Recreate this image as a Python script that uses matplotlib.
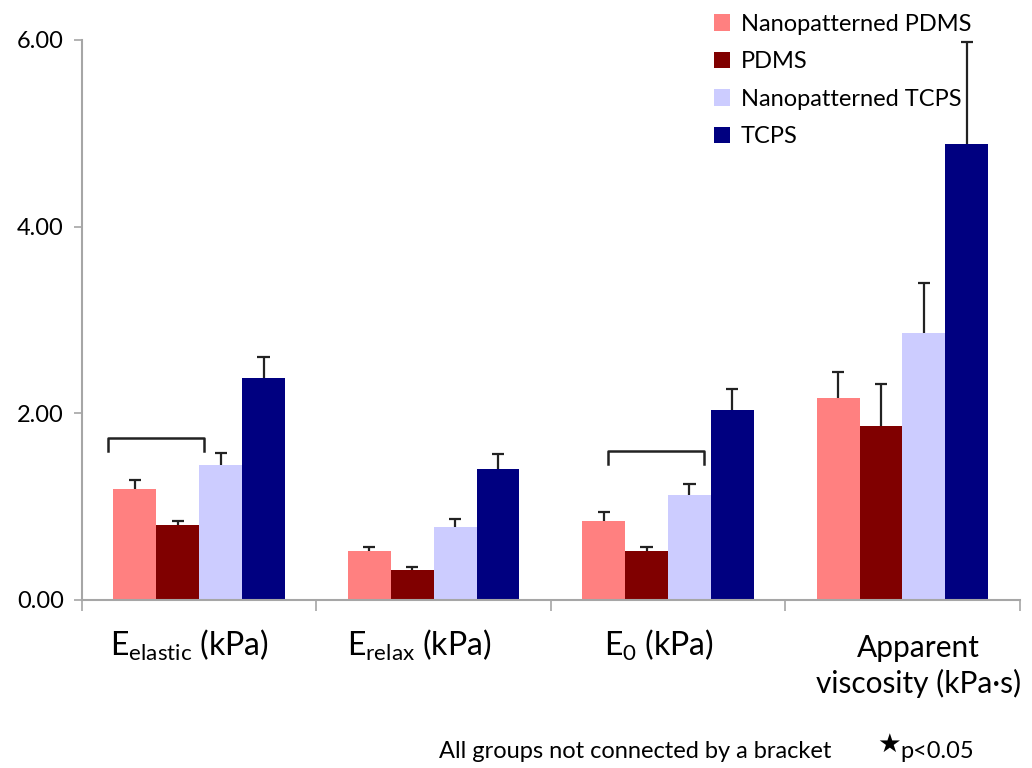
import matplotlib
matplotlib.use("Agg")
import matplotlib.pyplot as plt
import numpy as np

plt.rcParams['font.family'] = ['Lato', 'DejaVu Sans']
plt.rcParams['mathtext.fontset'] = 'custom'
plt.rcParams['mathtext.rm'] = 'Lato'

categories = [r'$\mathregular{E_{elastic}}$ (kPa)', r'$\mathregular{E_{relax}}$ (kPa)',
              r'$\mathregular{E_{0}}$ (kPa)', 'Apparent\nviscosity (kPa·s)']
series = ['Nanopatterned PDMS', 'PDMS', 'Nanopatterned TCPS', 'TCPS']
colors = ['#FF8080', '#800000', '#CCCCFF', '#000080']

# means
nano_pdms = [1.19, 0.52, 0.85, 2.16]
pdms = [0.80, 0.32, 0.52, 1.86]
nano_tcps = [1.45, 0.78, 1.12, 2.86]
tcps = [2.38, 1.40, 2.04, 4.89]
# upper error bars
nano_pdms_err = [0.10, 0.05, 0.09, 0.28]
pdms_err = [0.05, 0.03, 0.045, 0.45]
nano_tcps_err = [0.125, 0.09, 0.12, 0.54]
tcps_err = [0.22, 0.16, 0.22, 1.09]

# brackets: (left x, right x, top y, leg bottom y)
brackets = [(-0.39, 0.02, 1.74, 1.60), (1.745, 2.153, 1.60, 1.46)]

values = [nano_pdms, pdms, nano_tcps, tcps]
errors = [nano_pdms_err, pdms_err, nano_tcps_err, tcps_err]

fig = plt.figure(figsize=(10.32, 7.68), dpi=100)
ax = fig.add_axes([0.0795, 0.21875, 0.9085, 0.72925])

x = np.arange(len(categories))
w = 0.183
cap = 0.026
for i in range(4):
    xs = x + (i - 1.5) * w
    v = np.array(values[i])
    e = np.array(errors[i])
    ax.bar(xs, v, w, color=colors[i], label=series[i], zorder=2)
    ax.vlines(xs, v, v + e, color='#222222', lw=1.6, zorder=3)
    ax.hlines(v + e, xs - cap, xs + cap, color='#222222', lw=1.6, zorder=3)

for x0, x1, ytop, ybot in brackets:
    ax.plot([x0, x0, x1, x1], [ybot, ytop, ytop, ybot], color='#222222', lw=1.8)

ax.set_xlim(-0.5, 3.5)
ax.set_ylim(0, 6)
ax.set_yticks([0, 2, 4, 6])
ax.set_yticklabels(['0.00', '2.00', '4.00', '6.00'], fontsize=17)
ax.set_xticks([-0.5, 0.5, 1.5, 2.5, 3.5])
ax.set_xticklabels([])
ax.tick_params(axis='y', length=6, color='#a6a6a6', width=1.2, pad=7)
ax.tick_params(axis='x', length=8, color='#a6a6a6', width=1.2)
for s in ['top', 'right']:
    ax.spines[s].set_visible(False)
for s in ['left', 'bottom']:
    ax.spines[s].set_color('#a6a6a6')
    ax.spines[s].set_linewidth(1.5)

label_dx = [-0.04, -0.06, -0.04, 0.07]
label_y = [-0.30, -0.30, -0.30, -0.36]
label_fs = [23, 23, 23, 21.5]
for xi, lab, dx, ly, fs in zip(x, categories, label_dx, label_y, label_fs):
    ax.text(xi + dx, ly, lab, ha='center', va='top', fontsize=fs,
            linespacing=1.3, transform=ax.transData)

leg = ax.legend(loc='upper left', bbox_to_anchor=(0.651, 1.085), frameon=False,
                fontsize=17, handlelength=0.7, handleheight=0.7,
                handletextpad=0.45, labelspacing=0.7)

fig.text(0.425, 0.013, 'All groups not connected by a bracket', fontsize=17, ha='left', va='baseline')
fig.text(0.850, 0.0295, '★', fontsize=19, ha='left', va='center', family='DejaVu Sans')
fig.text(0.872, 0.013, 'p<0.05', fontsize=17, ha='left', va='baseline')

fig.savefig('out.png', dpi=100)
